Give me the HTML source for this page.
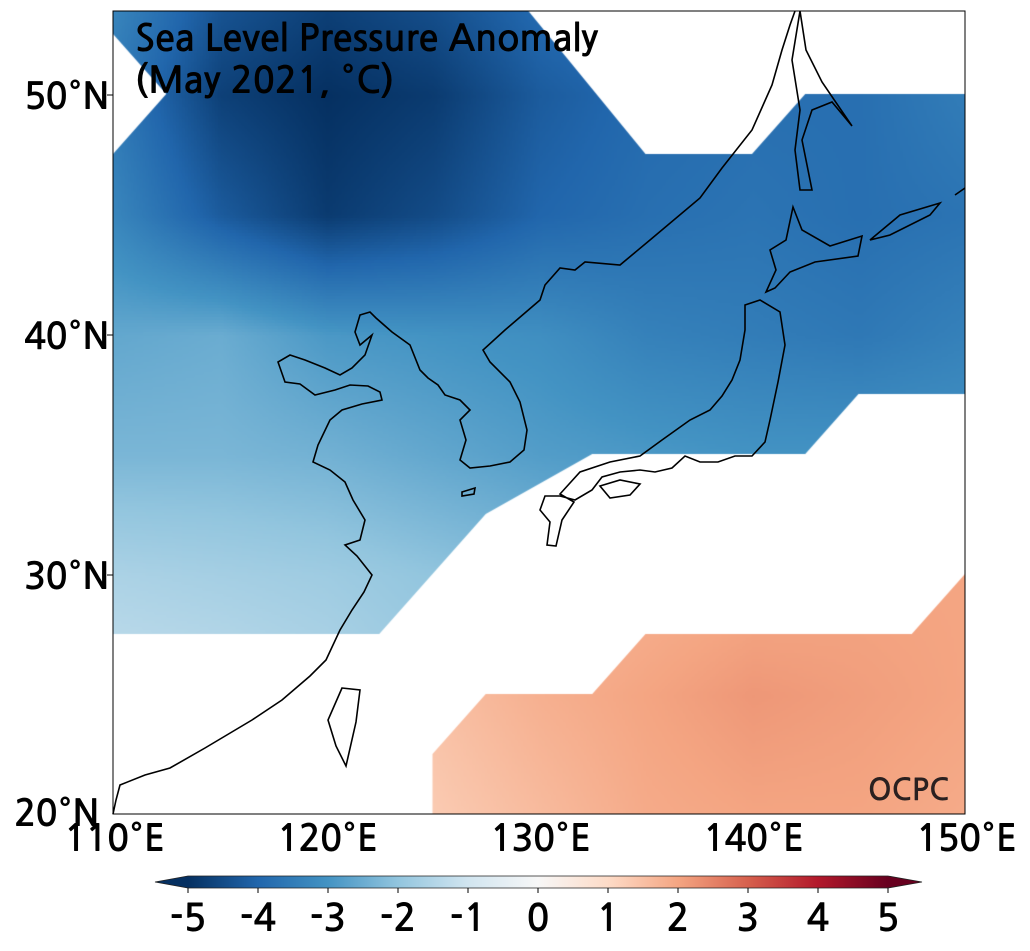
<!DOCTYPE html>
<html><head><meta charset="utf-8"><style>
body{margin:0;background:#fff;width:1030px;height:951px;position:relative;overflow:hidden;font-family:"NanumGothic","Liberation Sans",sans-serif}
.t{position:absolute;color:#000;white-space:nowrap}
.tk{font-size:37px;font-weight:bold;letter-spacing:-1px}
</style></head><body>
<canvas id="map" width="852" height="803" style="position:absolute;left:113px;top:11px"></canvas>
<svg id="ov" width="1030" height="951" style="position:absolute;left:0;top:0">
<g fill="none" stroke="#000" stroke-width="1.6">
<path d="M795,11 L790,25 782,50 772,85 752,130 722,168 700,198 650,240 620,265 585,262 575,270 560,268 545,285 540,300 505,330 483,350 490,362 510,382 520,402 527,430 524,450 510,462 490,466 470,468 460,460 466,440 460,420 470,410 460,400 445,395 438,385 428,378 420,370 410,345 392,332 376,318 370,312 360,315 355,332 360,345 372,335 365,355 352,368 340,375 325,368 305,360 290,355 278,362 285,382 300,384 315,395 335,390 350,385 368,386 380,392 382,400 362,404 342,410 330,420 318,445 313,462 330,470 345,482 353,500 365,520 360,540 345,545 357,556 372,575 364,592 352,610 340,630 326,660 310,676 282,700 252,720 205,748 170,768 145,775 120,785 116,800 113,814"/>
<path d="M745,305 L760,300 780,312 785,345 778,382 770,420 765,442 752,456 735,456 718,462 700,462 685,456 672,468 655,472 640,470 620,472 602,477 592,490 575,500 560,496 545,496 540,510 550,522 547,545 556,546 562,520 574,502 560,494 580,472 610,462 640,456 662,440 690,420 710,410 722,396 732,380 740,360 745,330 Z"/>
<path d="M793,207 L802,230 830,246 862,236 858,256 815,262 790,272 775,288 766,292 776,270 770,250 786,240 Z"/>
<path d="M800,11 L806,50 822,82 852,126 832,102 812,110 802,140 812,190 800,190 795,150 800,110 792,60 Z"/>
<path d="M342,688 L360,690 356,722 346,766 336,746 328,720 Z"/>
<path d="M870,240 L900,215 940,203 930,215 890,235 Z"/>
<path d="M955,195 L965,188"/>
<path d="M600,486 L620,480 640,484 630,495 610,498 Z"/>
<path d="M462,492 L475,488 474,494 462,496 Z"/>
</g>
<rect x="113" y="11" width="852" height="803" fill="none" stroke="#000" stroke-width="1"/>
<g stroke="#000" stroke-width="1">
<line x1="107" x2="113" y1="95" y2="95"/><line x1="107" x2="113" y1="335" y2="335"/><line x1="107" x2="113" y1="575" y2="575"/></g>
<g id="cbar"></g>
</svg>
<div class="t" style="left:135px;top:18px;font-size:37px;line-height:42px;font-weight:bold;letter-spacing:-0.3px">Sea Level Pressure Anomaly<br>(May 2021, °C)</div>
<div class="t tk" style="left:24px;top:78px">50°N</div>
<div class="t tk" style="left:24px;top:318px">40°N</div>
<div class="t tk" style="left:24px;top:558px">30°N</div>
<div class="t tk" style="left:14px;top:795px">20°N</div>
<div class="t tk" style="left:64px;top:820px">110°E</div>
<div class="t tk" style="left:277px;top:820px">120°E</div>
<div class="t tk" style="left:490px;top:820px">130°E</div>
<div class="t tk" style="left:703px;top:820px">140°E</div>
<div class="t tk" style="left:916px;top:820px">150°E</div>
<div class="t" style="left:868px;top:776px;font-size:30px;font-weight:bold;color:#2a2020">OCPC</div>
<script>
const lons=[110,115,120,125,130,135,140,145,150];
const blueLats=[55,50,45,40,35,30,25];
const b55=[-3.2,-4.2,-4.6,-4.3,-3.8,-3.6,-3.5,-3.6,-3.4];
const b50=[-3.6,-4.7,-5.0,-4.8,-4.2,-3.9,-3.8,-3.8,-3.5];
const b45=[-3.3,-4.2,-4.8,-4.5,-4.0,-3.8,-3.7,-3.8,-3.7];
const b40=[-2.6,-2.5,-2.9,-3.0,-3.1,-3.4,-3.5,-3.6,-3.4];
const b35=[-2.3,-2.3,-2.4,-2.6,-2.8,-2.9,-3.0,-3.0,-3.0];
const b30=[-1.6,-1.7,-1.8,-2.0,-2.2,-2.4,-2.5,-2.5,-2.5];
const b25=[-1.2,-1.3,-1.5,-1.8,-2.0,-2.2,-2.3,-2.3,-2.3];
const redLats=[30,25,20];
const r30=[1.0,1.1,1.2,1.4,1.6,1.8,1.9,2.0,2.0];
const r25=[1.0,1.1,1.2,1.5,1.8,2.0,2.2,2.1,2.0];
const r20=[1.0,1.0,1.1,1.3,1.6,1.9,2.0,2.0,1.9];
const blueRows=[b55,b50,b45,b40,b35,b30,b25];
const redRows=[r30,r25,r20];
const cbTicks=[-5,-4,-3,-2,-1,0,1,2,3,4,5];
const blueMask=[[110,53.46],[129.5,53.46],[135,47.5],[140,47.5],[142.5,50],[150,50],[150,37.5],[145,37.5],[142.5,35],[132.5,35],[127.5,32.5],[122.5,27.5],[110,27.5],[110,32.5],[112.5,30],[110,32.5],[110,47.5],[112.5,50],[110,52.5]];
const redMask=[[125,20],[125,22.5],[127.5,25],[132.5,25],[135,27.5],[147.5,27.5],[150,30],[150,20]];
const stops=["#053061","#2166ac","#4393c3","#92c5de","#d1e5f0","#f7f7f7","#fddbc7","#f4a582","#d6604d","#b2182b","#67001f"];
const X=lo=>113+(lo-110)*21.3, Y=la=>814-(la-20)*24;
const hex=h=>[1,3,5].map(i=>parseInt(h.substr(i,2),16));
const S=stops.map(hex);
function cmap(v){let t=(v+5);t=Math.max(0,Math.min(10,t));let i=Math.min(9,Math.floor(t)),f=t-i;return S[i].map((c,k)=>Math.round(c+(S[i+1][k]-c)*f));}
function val(rows,lat0,lo,la){const nr=rows.length;let fx=(lo-110)/5,fy=(lat0-la)/5;let i=Math.max(0,Math.min(7,Math.floor(fx))),j=Math.max(0,Math.min(nr-2,Math.floor(fy)));let dx=Math.max(0,Math.min(1,fx-i)),dy=Math.max(0,Math.min(1,fy-j));
return rows[j][i]*(1-dx)*(1-dy)+rows[j][i+1]*dx*(1-dy)+rows[j+1][i]*(1-dx)*dy+rows[j+1][i+1]*dx*dy;}
const cv=document.getElementById('map'),ctx=cv.getContext('2d');
function drawRegion(mask,rows,lat0){
ctx.save();ctx.beginPath();
mask.forEach((p,k)=>{const x=X(p[0])-113,y=Y(p[1])-11;k?ctx.lineTo(x,y):ctx.moveTo(x,y);});ctx.closePath();
ctx.clip('evenodd');
const st=3;
for(let py=0;py<803;py+=st){for(let px=0;px<852;px+=st){const lo=110+px/21.3,la=20+(803-py)/24;const c=cmap(val(rows,lat0,lo,la));ctx.fillStyle=`rgb(${c[0]},${c[1]},${c[2]})`;ctx.fillRect(px,py,st,st);}}
ctx.restore();}
drawRegion(blueMask,blueRows,blueLats[0]);
drawRegion(redMask,redRows,redLats[0]);
const ns='http://www.w3.org/2000/svg',cb=document.getElementById('cbar');
const CX=v=>188+(v+5)*70;
const defs=document.createElementNS(ns,'defs');const lg=document.createElementNS(ns,'linearGradient');lg.setAttribute('id','g');
lg.setAttribute('gradientUnits','userSpaceOnUse');lg.setAttribute('x1',CX(-5));lg.setAttribute('x2',CX(5));
stops.forEach((s,k)=>{const o=document.createElementNS(ns,'stop');o.setAttribute('offset',(k/10*100)+'%');o.setAttribute('stop-color',s);lg.appendChild(o);});
defs.appendChild(lg);cb.appendChild(defs);
const bar=document.createElementNS(ns,'polygon');


bar.setAttribute('points',`155,882 ${CX(-5)},876 ${CX(5)},876 922,882 ${CX(5)},888 ${CX(-5)},888`);bar.setAttribute('fill','url(#g)');bar.setAttribute('stroke','#222');bar.setAttribute('stroke-width','0.8');cb.appendChild(bar);
cbTicks.forEach(v=>{const l=document.createElementNS(ns,'line');


l.setAttribute('x1',CX(v));l.setAttribute('x2',CX(v));l.setAttribute('y1',888);l.setAttribute('y2',893);l.setAttribute('stroke','#000');cb.appendChild(l);
const t=document.createElementNS(ns,'text');


t.setAttribute('x',CX(v));t.setAttribute('y',931);t.setAttribute('text-anchor','middle');t.setAttribute('font-size','38');t.setAttribute('font-weight','bold');t.setAttribute('font-family','NanumGothic, Liberation Sans, sans-serif');t.textContent=v;cb.appendChild(t);});
</script>
</body></html>
